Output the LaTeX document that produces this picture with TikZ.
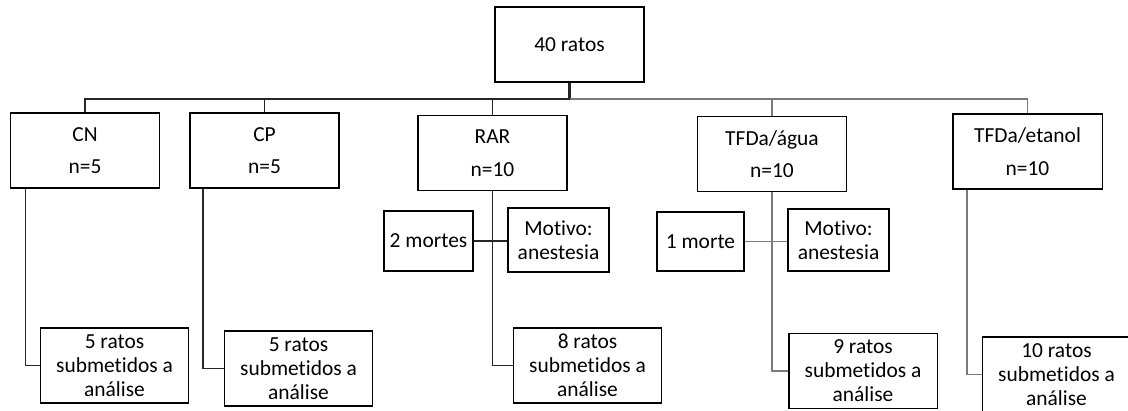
\documentclass[tikz,border=0pt]{standalone}
\usepackage{fontspec}
\setmainfont{Carlito}[Ligatures=NoCommon]
\definecolor{linedark}{HTML}{262626}
\definecolor{linegray}{HTML}{7A7A7A}

\begin{document}
\begin{tikzpicture}[x=0.02cm, y=-0.02cm,
    box/.style={draw, line width=0.85pt, align=center, inner sep=0pt,
                font=\fontsize{12.2}{13.6}\selectfont},
    group/.style={box, minimum width=2.99cm, minimum height=1.5cm},
    result/.style={box, minimum width=2.97cm, minimum height=1.5cm},
    conn/.style={draw=linedark, line width=0.8pt},
    conngray/.style={draw=linegray, line width=1pt}]
  \useasboundingbox (0,0) rectangle (1128,410);
  \clip (0,0) rectangle (1128,410);

  % top and groups
  \node[box, minimum width=2.98cm, minimum height=1.5cm] (total) at (569.5,44.5) {40 ratos};
  \coordinate (bus) at (569.5,99);

  \node[group] (cn) at (85,150.5) {CN\\[5pt]n=5};
  \node[group] (cp) at (264.5,150.5) {CP\\[5pt]n=5};
  \node[group] (rar) at (492.5,153) {RAR\\[5pt]n=10};
  \node[group] (agua) at (772,154) {TFDa/água\\[5pt]n=10};
  \node[group] (etanol) at (1027.5,151.5) {TFDa/etanol\\[5pt]n=10};

  % deaths
  \node[box, minimum width=1.78cm, minimum height=1.2cm] (mortesrar) at (428.5,241) {2 mortes};
  \node[box, minimum width=2.02cm, minimum height=1.28cm] (motivorar) at (558.5,240) {Motivo:\\anestesia};
  \node[box, minimum width=1.74cm, minimum height=1.18cm] (mortesagua) at (700.5,241.5) {1 morte};
  \node[box, minimum width=2.02cm, minimum height=1.24cm] (motivoagua) at (838.5,240) {Motivo:\\anestesia};

  % results
  \node[result] (rescn) at (114.5,365.5) {5 ratos\\submetidos a\\análise};
  \node[result] (rescp) at (298.5,368.5) {5 ratos\\submetidos a\\análise};
  \node[result] (resrar) at (587.5,365.5) {8 ratos\\submetidos a\\análise};
  \node[result] (resagua) at (863,371) {9 ratos\\submetidos a\\análise};
  \node[result] (resetanol) at (1056.5,374.5) {10 ratos\\submetidos a\\análise};

  % connectors
  \draw[conn, line width=1.2pt] (total.south) -- (bus);
  \draw[conn] (cn.north) |- (bus);
  \draw[conn] (cp.north) |- (bus);
  \draw[conn] (rar.north) |- (bus);
  \draw[conngray, line width=1.4pt] (agua.north) |- (bus);
  \draw[conngray] (etanol.north) |- (bus);

  \draw[conn] ([xshift=0.32cm]cn.south west) |- (rescn.west);
  \draw[conn] ([xshift=0.28cm]cp.south west) |- (rescp.west);
  \draw[conn, line width=1.1pt] (rar.south) |- (resrar.west);
  \draw[conngray] (agua.south) |- (resagua.west);
  \draw[conngray] ([xshift=0.3cm]etanol.south west) |- (resetanol.west);

  \draw[conn] (mortesrar.east) -- (mortesrar.east -| motivorar.west);
  \draw[conngray] (mortesagua.east) -- (mortesagua.east -| motivoagua.west);
\end{tikzpicture}
\end{document}
